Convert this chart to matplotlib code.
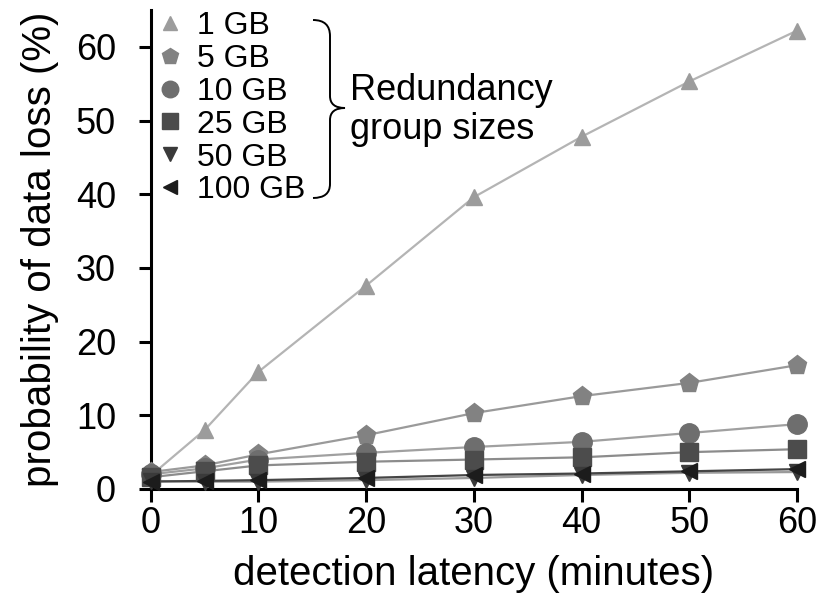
import matplotlib
matplotlib.use("Agg")
import matplotlib.pyplot as plt
from matplotlib.lines import Line2D
from matplotlib.path import Path
from matplotlib.patches import PathPatch

plt.rcParams['font.family'] = ['Liberation Sans', 'DejaVu Sans']

latency = [0, 5, 10, 20, 30, 40, 50, 60]
series_names = ["1 GB", "5 GB", "10 GB", "25 GB", "50 GB", "100 GB"]
gb1 = [1.8, 8.0, 15.9, 27.6, 39.6, 47.8, 55.3, 62.2]
gb5 = [2.3, 3.2, 4.7, 7.3, 10.3, 12.6, 14.4, 16.8]
gb10 = [2.0, 2.8, 4.0, 4.9, 5.7, 6.4, 7.6, 8.8]
gb25 = [1.6, 2.4, 3.2, 3.7, 4.0, 4.3, 5.0, 5.4]
gb50 = [1.1, 1.0, 1.0, 1.2, 1.5, 1.9, 2.2, 2.3]
gb100 = [1.0, 1.1, 1.2, 1.5, 1.9, 2.1, 2.4, 2.7]
xticks = [0, 10, 20, 30, 40, 50, 60]
yticks = [0, 10, 20, 30, 40, 50, 60]

values = [gb1, gb5, gb10, gb25, gb50, gb100]
markers = ['^', 'p', 'o', 's', 'v', '<']
msizes = [12, 14, 14, 13, 12, 12]
mcolors = ['#9c9c9c', '#828282', '#6e6e6e', '#4c4c4c', '#3a3a3a', '#1c1c1c']
lcolors = ['#b4b4b4', '#9a9a9a', '#a0a0a0', '#8c8c8c', '#9a9a9a', '#454545']

W, H = 823, 595
fig = plt.figure(figsize=(W / 100, H / 100), dpi=100)
ax = fig.add_axes([150.7 / W, 1 - 489 / H, (797 - 150.7) / W, (489 - 10) / H])

for vals, m, ms, mc, lc in zip(values, markers, msizes, mcolors, lcolors):
    ax.plot(latency, vals, color=lc, lw=1.6, zorder=2)
for vals, m, ms, mc, lc in zip(values, markers, msizes, mcolors, lcolors):
    ax.plot(latency, vals, linestyle='none', marker=m, markersize=ms,
            markerfacecolor=mc, markeredgecolor=mc, clip_on=False, zorder=3)

ax.set_xlim(0, 60)
ax.set_ylim(0, 65)
ax.set_xticks(xticks)
ax.set_yticks(yticks)
ax.tick_params(axis='both', direction='out', length=9, width=2.2,
               labelsize=26, color='black')
ax.tick_params(axis='x', pad=3)
ax.tick_params(axis='y', pad=16)
for s in ['top', 'right']:
    ax.spines[s].set_visible(False)
for s in ['left', 'bottom']:
    ax.spines[s].set_linewidth(2.2)

ax.set_xlabel('detection latency (minutes)', fontsize=29, labelpad=10)
ax.set_ylabel('probability of data loss (%)', fontsize=29, labelpad=12)

handles = [Line2D([], [], linestyle='none', marker=m, markersize=ms * 0.85,
                  markerfacecolor=mc, markeredgecolor=mc)
           for m, ms, mc in zip(markers, msizes, mcolors)]
leg = ax.legend(handles, series_names, loc='upper left', frameon=False,
                fontsize=23, handlelength=0.6, handletextpad=0.55,
                labelspacing=0.09, borderaxespad=0.0, borderpad=0.0,
                bbox_to_anchor=(160 / W, 1 - 11 / H),
                bbox_transform=fig.transFigure)


def px(x, y):
    return (x / W, 1 - y / H)


verts = [px(313, 20), px(330, 20), px(330, 36), px(330, 96), px(330, 108), px(345, 108),
         px(330, 108), px(330, 120), px(330, 184), px(330, 198), px(313, 198)]
codes = [Path.MOVETO, Path.CURVE3, Path.CURVE3, Path.LINETO, Path.CURVE3, Path.CURVE3,
         Path.CURVE3, Path.CURVE3, Path.LINETO, Path.CURVE3, Path.CURVE3]
brace = PathPatch(Path(verts, codes), transform=fig.transFigure, fill=False,
                  lw=1.4, edgecolor='black')
fig.patches.append(brace)

fig.text(350 / W, 1 - 110 / H, 'Redundancy\ngroup sizes', fontsize=26,
         ha='left', va='center', linespacing=1.15)

fig.savefig('out.png', dpi=100)
